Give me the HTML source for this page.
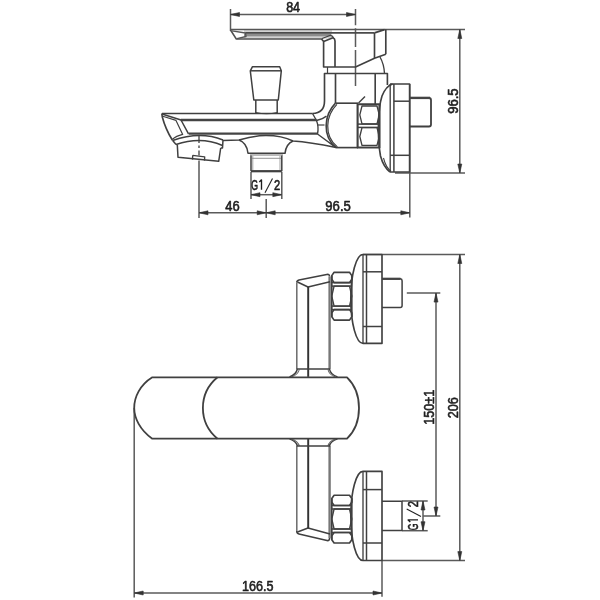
<!DOCTYPE html>
<html><head><meta charset="utf-8"><style>
html,body{margin:0;padding:0;background:#fff;}
svg{display:block;filter:blur(0.4px);}
text{font-family:"Liberation Sans",sans-serif;fill:#1e1e1e;stroke:#1e1e1e;stroke-width:0.6px;}
</style></head><body>
<svg width="600" height="600" viewBox="0 0 600 600">
<g fill="none" stroke="#404040" stroke-width="1.35" stroke-linecap="butt" stroke-linejoin="round">
<line x1="230.5" y1="9" x2="230.5" y2="31" stroke-width="1.50" stroke="#5a5a5a"/>
<path d="M355.5,9 V25.3 M355.5,28.2 V47 M355.5,50 V86" stroke-width="1.50" stroke="#5a5a5a"/>
<line x1="230.5" y1="14.5" x2="355.5" y2="14.5" stroke-width="1.50" stroke="#5a5a5a"/>
<polygon points="230.50,14.50 239.50,12.50 239.50,16.50" fill="#333" stroke="#333" stroke-width="0.6"/>
<polygon points="355.50,14.50 346.50,12.50 346.50,16.50" fill="#333" stroke="#333" stroke-width="0.6"/>
<text x="286.15" y="12.40" font-size="14" textLength="13.95" lengthAdjust="spacingAndGlyphs">84</text>
<line x1="386" y1="29.5" x2="465" y2="29.5" stroke-width="1.50" stroke="#5a5a5a"/>
<line x1="395" y1="173" x2="465" y2="173" stroke-width="1.50" stroke="#5a5a5a"/>
<line x1="459.8" y1="29.5" x2="459.8" y2="173" stroke-width="1.50" stroke="#5a5a5a"/>
<polygon points="459.80,29.50 457.80,38.50 461.80,38.50" fill="#333" stroke="#333" stroke-width="0.6"/>
<polygon points="459.80,173.00 457.80,164.00 461.80,164.00" fill="#333" stroke="#333" stroke-width="0.6"/>
<text x="0" y="0" transform="translate(457.50,113.87) rotate(-90)" font-size="14" textLength="25.41" lengthAdjust="spacingAndGlyphs">96.5</text>
<path d="M199,136 V143 M199,145.5 V148 M199,150.5 V155.5 M199,160.5 V218" stroke-width="1.50" stroke="#5a5a5a"/>
<line x1="266.2" y1="199" x2="266.2" y2="218" stroke-width="1.50" stroke="#5a5a5a"/>
<line x1="409.8" y1="84" x2="409.8" y2="217.5" stroke-width="1.50" stroke="#5a5a5a"/>
<line x1="199" y1="212.8" x2="409.8" y2="212.8" stroke-width="1.50" stroke="#5a5a5a"/>
<polygon points="199.00,212.80 208.00,210.80 208.00,214.80" fill="#333" stroke="#333" stroke-width="0.6"/>
<polygon points="266.20,212.80 257.20,210.80 257.20,214.80" fill="#333" stroke="#333" stroke-width="0.6"/>
<polygon points="266.20,212.80 275.20,210.80 275.20,214.80" fill="#333" stroke="#333" stroke-width="0.6"/>
<polygon points="409.80,212.80 400.80,210.80 400.80,214.80" fill="#333" stroke="#333" stroke-width="0.6"/>
<text x="225.22" y="210.65" font-size="14" textLength="14.39" lengthAdjust="spacingAndGlyphs">46</text>
<text x="325.33" y="210.65" font-size="14" textLength="25.52" lengthAdjust="spacingAndGlyphs">96.5</text>
<line x1="251" y1="172" x2="251" y2="199" stroke-width="1.50" stroke="#5a5a5a"/>
<line x1="281.8" y1="172" x2="281.8" y2="199" stroke-width="1.50" stroke="#5a5a5a"/>
<line x1="251" y1="194.7" x2="281.8" y2="194.7" stroke-width="1.50" stroke="#5a5a5a"/>
<polygon points="251.00,194.70 260.00,192.70 260.00,196.70" fill="#333" stroke="#333" stroke-width="0.6"/>
<polygon points="281.80,194.70 272.80,192.70 272.80,196.70" fill="#333" stroke="#333" stroke-width="0.6"/>
<g transform="translate(251.4,189.7)"><text x="-0.2" y="0" font-size="14" textLength="6.8" lengthAdjust="spacingAndGlyphs">G</text><path d="M10.1,0 V-9.9 L7.9,-7.7" stroke="#1e1e1e" stroke-width="1.35" fill="none"/><line x1="13.6" y1="3" x2="21.1" y2="-11.3" stroke="#222" stroke-width="1.1"/><text x="22.7" y="0" font-size="14" textLength="6.2" lengthAdjust="spacingAndGlyphs">2</text></g>
<rect x="244" y="30.2" width="88" height="8.4" fill="#d2d2d2" stroke="none"/>
<rect x="244" y="33.6" width="87" height="2.7" fill="#8c8c8c" stroke="none"/>
<line x1="230.5" y1="29.6" x2="386" y2="29.6" stroke-width="1.50" stroke="#555"/>
<path d="M230.5,30 L236.3,39 L321.5,39" stroke-width="1.50" stroke="#505050"/>
<path d="M232,30.8 L245.5,33 L246,36.5 L237,38.6" stroke-width="1.35" stroke="#555"/>
<line x1="245.5" y1="32.9" x2="374.5" y2="32.9" stroke-width="1.65" stroke="#4a4a4a"/>
<path d="M321.5,39 L323.6,41.5 V67 H355.5 L374.5,58.2 L385.8,54.3" stroke-width="1.65"/>
<path d="M323.6,41.5 L333,37.8 Q335,38.6 335,41 V67" stroke-width="1.65"/>
<path d="M321.5,38.8 L330.5,35.3 Q333,35.6 333.5,37.8" stroke-width="1.20"/>
<path d="M374.5,32.9 V58 M385.8,29.6 V54.3 M374.5,32.9 L384.5,29.6" stroke-width="1.65"/>
<path d="M380,57 Q384,64 384.5,73.5" stroke-width="1.35"/>
<line x1="327.5" y1="67" x2="327.5" y2="73.5" stroke-width="1.20"/>
<path d="M312.5,113.5 Q324.5,113 324.5,101 V73.5 H387.4 V85" stroke-width="1.65"/>
<line x1="335.5" y1="73.5" x2="335.5" y2="103" stroke-width="1.65"/>
<line x1="375.2" y1="73.5" x2="375.2" y2="104" stroke-width="1.65"/>
<line x1="335.5" y1="103.2" x2="358" y2="103.2" stroke-width="1.65"/>
<path d="M358.5,103 L365,96.5" stroke-width="1.35"/>
<path d="M335.5,103.2 C324,115 322,136 336,147.6" stroke-width="1.65"/>
<path d="M336.9,104.3 C325.6,115.7 323.6,135.8 337.4,146.9" stroke-width="1.20"/>
<line x1="336" y1="147.6" x2="358" y2="147.6" stroke-width="1.65"/>
<path d="M312.5,113.5 L316.5,120.5 Q319,127 317.5,134 L336,147.6" stroke-width="1.35"/>
<path d="M316.5,120.5 Q323,119 326.5,116" stroke-width="1.35"/>
<line x1="317.5" y1="125" x2="324.5" y2="125" stroke-width="1.20"/>
<path d="M357.6,104.2 H379.5 V147.5 H357.6 Z" stroke-width="2.10"/>
<path d="M362,106 H377 L379.3,114.95 L377,123.9 H362 L359.8,114.95 Z" stroke-width="1.35"/>
<path d="M362,127.6 H377 L379.3,136.5 L377,145.4 H362 L359.8,136.5 Z" stroke-width="1.35"/>
<line x1="358" y1="124.1" x2="379" y2="124.1" stroke-width="1.50"/>
<line x1="358" y1="127.4" x2="379" y2="127.4" stroke-width="1.50"/>
<path d="M392.5,84 Q386,86 382,96 C377.5,110 377.5,140 380.5,156 Q383.5,167 390,172" stroke-width="1.65"/>
<path d="M383.5,158 Q386,168 391,171" stroke-width="1.05"/>
<path d="M390,84 H409.6 V172 H390" stroke-width="1.65"/>
<line x1="390.2" y1="84" x2="390.2" y2="172" stroke-width="1.35"/>
<line x1="393.9" y1="84" x2="393.9" y2="172" stroke-width="1.50"/>
<line x1="393.9" y1="101.2" x2="409.6" y2="101.2" stroke-width="1.50"/>
<line x1="390.2" y1="155.3" x2="409.6" y2="155.3" stroke-width="1.50"/>
<path d="M409.6,126.5 H429 Q431,126.5 431,124.5 V100 Q431,98 429,98 H409.6" stroke-width="1.80"/>
<line x1="409.6" y1="97.9" x2="430" y2="97.9" stroke-width="2.40" stroke="#444"/>
<line x1="162" y1="113.5" x2="312.5" y2="113.5" stroke-width="1.65"/>
<line x1="180.7" y1="120" x2="316.5" y2="120" stroke-width="2.40" stroke="#444"/>
<line x1="188.7" y1="133.6" x2="317.5" y2="133.6" stroke-width="2.40" stroke="#444"/>
<path d="M161.8,113.5 L162.3,117 Q165.5,129 172,139.5 L172.7,140.5" stroke-width="1.65"/>
<path d="M162,114 L181,120 L188.5,133.8" stroke-width="1.50"/>
<path d="M162.8,116.3 L176,120.4 L182.7,134.4 Q176,136 172.5,139.2" stroke-width="1.20"/>
<path d="M172.7,140.5 L176,144.5" stroke-width="1.50"/>
<path d="M172.7,140.5 Q200,131 223,140" stroke-width="1.50"/>
<path d="M176,144.5 Q201,136 222.5,145.5" stroke-width="1.50"/>
<path d="M223,140 L222.5,148 L220.7,148" stroke-width="1.50"/>
<path d="M177.3,144.6 L178,157.3 L218.7,161.3 L220.7,148" stroke-width="1.50"/>
<path d="M192.7,155.4 L204.7,156.8 L204.5,160.6 M192.7,155.4 L192.5,159.6" stroke-width="1.35"/>
<path d="M223,140.5 Q232,140 239,140 Q255,135.5 266,135.5 Q282,135.5 293,141 Q310,142 336,147.6" stroke-width="1.50"/>
<path d="M239,140 Q247,143 248,153.3 H285 Q286,144 293,141" stroke-width="1.50"/>
<line x1="250" y1="155" x2="283" y2="155" stroke-width="1.05" stroke="#777"/>
<path d="M251,155.5 V171.3 M281.8,155.5 V171.3" stroke-width="1.50"/>
<path d="M252.8,156 V170 M280,156 V170" stroke-width="0.90" stroke="#999"/>
<line x1="252" y1="158.3" x2="281" y2="158.3" stroke-width="0.90" stroke="#888"/>
<line x1="251" y1="171.2" x2="281.8" y2="171.2" stroke-width="2.25"/>
<path d="M252.5,66.7 H279.7 L281.3,70.8 L278.3,100 H253.8 L250.3,70.8 Z" stroke-width="1.50"/>
<line x1="250.3" y1="70.8" x2="281.3" y2="70.8" stroke-width="1.50"/>
<path d="M255.8,100 V113.5 M277.2,100 V113.5" stroke-width="1.50"/>
<path d="M255.8,112.5 Q266.5,115 277.2,112.5" stroke-width="1.20"/>
<line x1="363" y1="254.5" x2="465" y2="254.5" stroke-width="1.50" stroke="#5a5a5a"/>
<line x1="382" y1="560.6" x2="465" y2="560.6" stroke-width="1.50" stroke="#5a5a5a"/>
<line x1="459.8" y1="254.5" x2="459.8" y2="560.6" stroke-width="1.50" stroke="#5a5a5a"/>
<polygon points="459.80,254.50 457.80,263.50 461.80,263.50" fill="#333" stroke="#333" stroke-width="0.6"/>
<polygon points="459.80,560.60 457.80,551.60 461.80,551.60" fill="#333" stroke="#333" stroke-width="0.6"/>
<text x="0" y="0" transform="translate(457.60,418.25) rotate(-90)" font-size="14" textLength="21.17" lengthAdjust="spacingAndGlyphs">206</text>
<line x1="406.8" y1="293.1" x2="440.3" y2="293.1" stroke-width="1.50" stroke="#5a5a5a"/>
<line x1="423" y1="516" x2="440.3" y2="516" stroke-width="1.50" stroke="#5a5a5a"/>
<line x1="436" y1="293.1" x2="436" y2="516" stroke-width="1.50" stroke="#5a5a5a"/>
<polygon points="436.00,293.10 434.00,302.10 438.00,302.10" fill="#333" stroke="#333" stroke-width="0.6"/>
<polygon points="436.00,516.00 434.00,507.00 438.00,507.00" fill="#333" stroke="#333" stroke-width="0.6"/>
<text x="0" y="0" transform="translate(433.50,424.72) rotate(-90)" font-size="14" textLength="34.86" lengthAdjust="spacingAndGlyphs">150±1</text>
<line x1="402" y1="501" x2="427.7" y2="501" stroke-width="1.50" stroke="#5a5a5a"/>
<line x1="402" y1="530.7" x2="427.7" y2="530.7" stroke-width="1.50" stroke="#5a5a5a"/>
<line x1="423" y1="501" x2="423" y2="530.7" stroke-width="1.50" stroke="#5a5a5a"/>
<polygon points="423.00,501.00 421.00,510.00 425.00,510.00" fill="#333" stroke="#333" stroke-width="0.6"/>
<polygon points="423.00,530.70 421.00,521.70 425.00,521.70" fill="#333" stroke="#333" stroke-width="0.6"/>
<g transform="translate(418,530) rotate(-90)"><text x="-0.2" y="0" font-size="14" textLength="6.8" lengthAdjust="spacingAndGlyphs">G</text><path d="M10.1,0 V-9.9 L7.9,-7.7" stroke="#1e1e1e" stroke-width="1.35" fill="none"/><line x1="13.6" y1="3" x2="21.1" y2="-11.3" stroke="#222" stroke-width="1.1"/><text x="22.7" y="0" font-size="14" textLength="6.2" lengthAdjust="spacingAndGlyphs">2</text></g>
<line x1="134.2" y1="408" x2="134.2" y2="597.5" stroke-width="1.50" stroke="#5a5a5a"/>
<line x1="382" y1="560" x2="382" y2="596.7" stroke-width="1.50" stroke="#5a5a5a"/>
<line x1="134.2" y1="593" x2="382" y2="593" stroke-width="1.50" stroke="#5a5a5a"/>
<polygon points="134.20,593.00 143.20,591.00 143.20,595.00" fill="#333" stroke="#333" stroke-width="0.6"/>
<polygon points="382.00,593.00 373.00,591.00 373.00,595.00" fill="#333" stroke="#333" stroke-width="0.6"/>
<text x="242.08" y="590.60" font-size="14" textLength="31.45" lengthAdjust="spacingAndGlyphs">166.5</text>
<path d="M363,254.5 H382 V343.4 H363" stroke-width="1.65"/>
<path d="M363,254.5 A12.2,44.44999999999999 0 0 0 363,343.4" stroke-width="1.65"/>
<line x1="363" y1="254.5" x2="363" y2="343.4" stroke-width="1.35"/>
<line x1="366.5" y1="254.5" x2="366.5" y2="343.4" stroke-width="1.50"/>
<line x1="363" y1="271.8" x2="382" y2="271.8" stroke-width="1.50"/>
<line x1="363" y1="326.5" x2="382" y2="326.5" stroke-width="1.50"/>
<path d="M382,278.8 H400.3 Q402.1,279.0 402.1,280.8 V305.4 Q402.1,307.4 400.3,307.4 H382" stroke-width="1.50"/>
<line x1="382" y1="278.8" x2="400.5" y2="278.8" stroke-width="2.25" stroke="#444"/>
<path d="M363,471.4 H382 V560.5 H363" stroke-width="1.65"/>
<path d="M363,471.4 A12.2,44.55000000000001 0 0 0 363,560.5" stroke-width="1.65"/>
<line x1="363" y1="471.4" x2="363" y2="560.5" stroke-width="1.35"/>
<line x1="366.5" y1="471.4" x2="366.5" y2="560.5" stroke-width="1.50"/>
<line x1="363" y1="489.6" x2="382" y2="489.6" stroke-width="1.50"/>
<line x1="363" y1="543" x2="382" y2="543" stroke-width="1.50"/>
<path d="M382,501.2 H402 V530.5 H382" stroke-width="1.50"/>
<path d="M334.1,272.3 H349.5 L351.8,275.6 V279.3 L349.5,282.6 H334.1 L331.8,279.3 V275.6 Z" stroke-width="1.65"/>
<path d="M334.1,286.1 H349.5 L351.8,296.1 L349.5,306.1 H334.1 L331.8,296.1 Z" stroke-width="1.35"/>
<path d="M334.1,309.6 H349.5 L351.8,312.90000000000003 V316.8 L349.5,320.1 H334.1 L331.8,316.8 V312.90000000000003 Z" stroke-width="1.65"/>
<line x1="331.8" y1="282.6" x2="351.8" y2="282.6" stroke-width="1.50"/>
<line x1="331.8" y1="286.1" x2="351.8" y2="286.1" stroke-width="1.50"/>
<line x1="331.8" y1="306.1" x2="351.8" y2="306.1" stroke-width="1.50"/>
<line x1="331.8" y1="309.6" x2="351.8" y2="309.6" stroke-width="1.50"/>
<line x1="331.8" y1="275.6" x2="331.8" y2="316.8" stroke-width="1.65"/>
<line x1="351.8" y1="275.6" x2="351.8" y2="316.8" stroke-width="1.65"/>
<path d="M334.1,495.2 H349.5 L351.8,498.5 V502.2 L349.5,505.5 H334.1 L331.8,502.2 V498.5 Z" stroke-width="1.65"/>
<path d="M334.1,509.0 H349.5 L351.8,519.0 L349.5,529.0 H334.1 L331.8,519.0 Z" stroke-width="1.35"/>
<path d="M334.1,532.5 H349.5 L351.8,535.8 V539.7 L349.5,543.0 H334.1 L331.8,539.7 V535.8 Z" stroke-width="1.65"/>
<line x1="331.8" y1="505.5" x2="351.8" y2="505.5" stroke-width="1.50"/>
<line x1="331.8" y1="509.0" x2="351.8" y2="509.0" stroke-width="1.50"/>
<line x1="331.8" y1="529.0" x2="351.8" y2="529.0" stroke-width="1.50"/>
<line x1="331.8" y1="532.5" x2="351.8" y2="532.5" stroke-width="1.50"/>
<line x1="331.8" y1="498.5" x2="331.8" y2="539.7" stroke-width="1.65"/>
<line x1="351.8" y1="498.5" x2="351.8" y2="539.7" stroke-width="1.65"/>
<path d="M296.8,282.5 Q296.8,280.5 299,280 L328,274.3 Q329.6,274.5 329.6,276.5" stroke-width="1.65"/>
<line x1="329.6" y1="276.5" x2="329.6" y2="369" stroke-width="2.40" stroke="#777"/>
<line x1="296.8" y1="282.5" x2="296.8" y2="369" stroke-width="1.50" stroke="#6a6a6a"/>
<path d="M297.5,282 L308,287 L330,281.8" stroke-width="1.50"/>
<line x1="308.2" y1="287" x2="308.2" y2="376.9" stroke-width="1.95" stroke="#333"/>
<path d="M296.8,531 Q296.8,533.5 299,534 L327,540.5 Q329.6,541 329.6,538" stroke-width="1.65"/>
<line x1="329.6" y1="446" x2="329.6" y2="538" stroke-width="2.40" stroke="#777"/>
<line x1="296.8" y1="446" x2="296.8" y2="531" stroke-width="1.50" stroke="#6a6a6a"/>
<path d="M297.5,532 L308,528 L330,534" stroke-width="1.50"/>
<line x1="308.2" y1="528" x2="308.2" y2="439" stroke-width="1.95" stroke="#333"/>
<path d="M289.5,376.9 Q296.3,374.5 297.3,369 M337.5,376.9 Q330.3,374.5 329.5,369" stroke-width="1.50"/>
<path d="M291.5,376.9 Q298,375 299.3,369.5 M335.5,376.9 Q329,375 328,369.5" stroke-width="1.05" stroke="#666"/>
<line x1="296.8" y1="369" x2="330" y2="369" stroke-width="1.50"/>
<path d="M289.5,438.9 Q296.3,441.3 297.3,446 M337.5,438.9 Q330.3,441.3 329.5,446" stroke-width="1.50"/>
<path d="M291.5,438.9 Q298,441 299.3,446 M335.5,438.9 Q329,441 328,446" stroke-width="1.05" stroke="#666"/>
<line x1="296.8" y1="446" x2="330" y2="446" stroke-width="1.50"/>
<path d="M152.3,377.3 H347 C356,386 359,398 359,408 C359,418 356,430 347,438.7 H152.3 C140,430 134.2,418 134.2,408 C134.2,397 140,385 152.3,377.3 Z" stroke-width="1.80"/>
<path d="M217.5,377.3 C207,386 202.9,397 202.9,408 C202.9,418 207,430 217.5,438.7" stroke-width="1.80"/>
</g>
</svg>
</body></html>
